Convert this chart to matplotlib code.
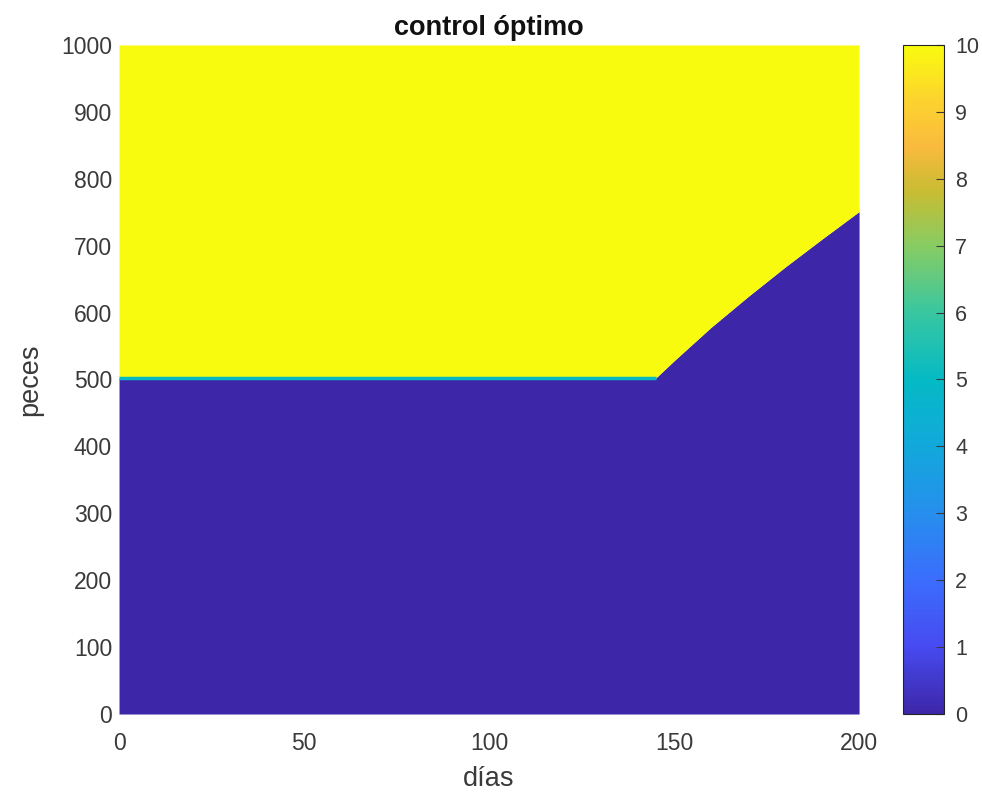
import matplotlib.pyplot as plt
from matplotlib.colors import LinearSegmentedColormap, Normalize
from matplotlib.cm import ScalarMappable

# boundary between "no harvest" (0) and "max harvest" (10)
dias = [0, 145, 150, 160, 170, 180, 190, 200]
frontera = [502, 502, 528, 578, 624, 668, 710, 751]
u_min, u_max = 0, 10
u_frontera = 5  # thin band on the flat part

# parula-like colormap
parula_pts = [
    (0.00, (0.2422, 0.1504, 0.6603)),
    (0.10, (0.2780, 0.2920, 0.9450)),
    (0.20, (0.2300, 0.4300, 0.9900)),
    (0.30, (0.1500, 0.5600, 0.9300)),
    (0.40, (0.0700, 0.6600, 0.8600)),
    (0.50, (0.0200, 0.7300, 0.7700)),
    (0.60, (0.2200, 0.7800, 0.6300)),
    (0.70, (0.5300, 0.8000, 0.3900)),
    (0.78, (0.7800, 0.7400, 0.2000)),
    (0.85, (0.9800, 0.7300, 0.2400)),
    (0.92, (0.9900, 0.8300, 0.1800)),
    (1.00, (0.9763, 0.9831, 0.0538)),
]
parula = LinearSegmentedColormap.from_list('parula', parula_pts)
norm = Normalize(u_min, u_max)

plt.rcParams['font.family'] = ['Liberation Sans', 'DejaVu Sans']
txt = '#3a3a3a'

fig = plt.figure(figsize=(9.82, 7.96), dpi=100)
ax = fig.add_axes([0.1212, 0.1030, 0.7536, 0.8405])
cax = fig.add_axes([0.9196, 0.1030, 0.0418, 0.8405])

ax.fill_between(dias, 0, frontera, color=parula(norm(u_min)), lw=0)
ax.fill_between(dias, frontera, 1000, color=parula(norm(u_max)), lw=0)
ax.plot(dias[:2], frontera[:2], color=parula(norm(u_frontera)), lw=2.5,
        solid_capstyle='butt')

ax.set_xlim(0, 200)
ax.set_ylim(0, 1000)
ax.set_xticks(range(0, 201, 50))
ax.set_yticks(range(0, 1001, 100))
for s in ax.spines.values():
    s.set_visible(False)
ax.tick_params(length=0, labelsize=16.5, colors=txt)
ax.tick_params(axis='x', pad=13)
ax.tick_params(axis='y', pad=5)
ax.set_xlabel('días', fontsize=19.5, color=txt, labelpad=8)
ax.set_ylabel('peces', fontsize=19.5, color=txt, labelpad=13)
ax.set_title('control óptimo', fontsize=19.5, fontweight='bold', pad=7,
             color='#111111')

cb = fig.colorbar(ScalarMappable(norm=norm, cmap=parula), cax=cax)
cb.set_ticks(range(0, 11))
cb.outline.set_linewidth(0.8)
cb.outline.set_edgecolor('#262626')
cax.tick_params(direction='in', length=6, labelsize=15.5, colors=txt,
                pad=8)

fig.savefig('out.png', dpi=100)
